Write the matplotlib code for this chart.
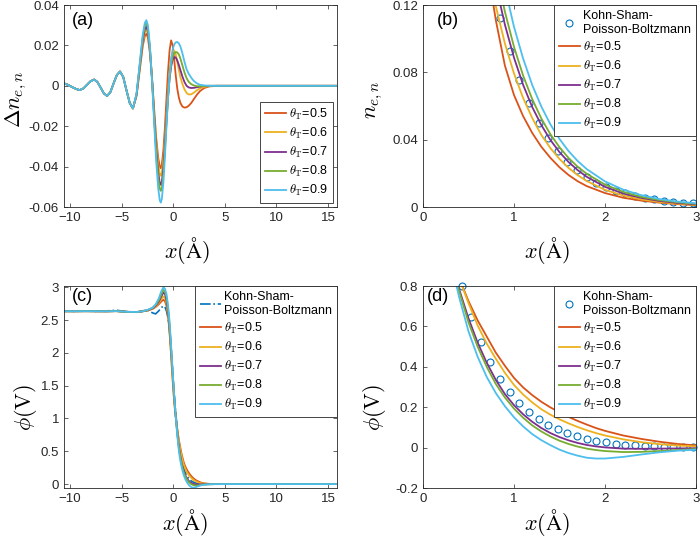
import numpy as np
import matplotlib
matplotlib.use("Agg")
import matplotlib.pyplot as plt

plt.rcParams["font.family"] = ["Liberation Sans", "DejaVu Sans"]
plt.rcParams["mathtext.fontset"] = "cm"

colors = ["#D95319", "#EDB120", "#7E2F8E", "#77AC30", "#4DBEEE"]
ks_color = "#0072BD"
theta_labels = [r"$\theta_{\mathrm{T}}$=0.5", r"$\theta_{\mathrm{T}}$=0.6", r"$\theta_{\mathrm{T}}$=0.7",
                r"$\theta_{\mathrm{T}}$=0.8", r"$\theta_{\mathrm{T}}$=0.9"]
ks_label = "Kohn-Sham-\nPoisson-Boltzmann"

# (a) density difference, shared oscillating part then one tail per theta
xa_head = [-10.58, -10.2, -9.8, -9.4, -9.05, -8.7, -8.35, -8.0, -7.65, -7.34, -7.02, -6.71,
           -6.4, -6.09, -5.78, -5.46, -5.15, -4.84, -4.53, -4.21, -3.9]
dn_head = [0.0012, 0.0005, -0.0006, -0.0016, -0.0021, -0.0013, 0.0005, 0.0023, 0.0031, 0.0019,
           -0.0010, -0.0038, -0.0050, -0.0032, 0.0011, 0.0053, 0.0071, 0.0044, -0.0021, -0.0085, -0.0112]
xa_tail = [-3.55, -3.25, -2.95, -2.75, -2.6, -2.45, -2.25, -2.05, -1.85, -1.65, -1.45, -1.3, -1.2,
           -1.1, -0.95, -0.8, -0.65, -0.5, -0.35, -0.2, -0.05, 0.1, 0.25, 0.4, 0.55, 0.7, 0.9,
           1.1, 1.3, 1.5, 1.75, 2.0, 2.3, 2.6, 3.0, 3.5, 4.2, 5.0, 15.87]
dn_05 = [-0.0050, 0.0073, 0.0196, 0.0246, 0.0258, 0.0239, 0.0160, 0.0037, -0.0112, -0.0255, -0.0356,
         -0.0400, -0.0408, -0.0390, -0.0320, -0.0205, -0.0065, 0.0070, 0.0175, 0.0225, 0.0200, 0.0130,
         0.0050, -0.0015, -0.0058, -0.0085, -0.0103, -0.0108, -0.0106, -0.0099, -0.0085, -0.0066,
         -0.0044, -0.0026, -0.0011, -0.0003, 0, 0, 0]
dn_06 = [-0.0047, 0.0083, 0.0213, 0.0265, 0.0278, 0.0258, 0.0172, 0.0038, -0.0124, -0.0279, -0.0389,
         -0.0436, -0.0445, -0.0430, -0.0365, -0.0265, -0.0145, -0.0030, 0.0070, 0.0135, 0.0168, 0.0174,
         0.0155, 0.0118, 0.0078, 0.0042, 0.0008, -0.0018, -0.0035, -0.0043, -0.0042, -0.0034,
         -0.0022, -0.0012, -0.0005, -0.0001, 0, 0, 0]
dn_07 = [-0.0044, 0.0091, 0.0225, 0.0280, 0.0293, 0.0271, 0.0178, 0.0033, -0.0142, -0.0310, -0.0429,
         -0.0480, -0.0490, -0.0475, -0.0405, -0.0295, -0.0170, -0.0055, 0.0035, 0.0095, 0.0130, 0.0142,
         0.0140, 0.0125, 0.0103, 0.0078, 0.0045, 0.0018, 0.0000, -0.0008, -0.0011, -0.0010,
         -0.0007, -0.0004, -0.0001, 0, 0, 0, 0]
dn_08 = [-0.0042, 0.0099, 0.0240, 0.0296, 0.0310, 0.0287, 0.0188, 0.0034, -0.0151, -0.0330, -0.0455,
         -0.0510, -0.0520, -0.0505, -0.0435, -0.0320, -0.0185, -0.0060, 0.0040, 0.0105, 0.0145, 0.0162,
         0.0167, 0.0165, 0.0155, 0.0135, 0.0100, 0.0065, 0.0038, 0.0020, 0.0008, 0.0002,
         -0.0002, -0.0002, -0.0001, 0, 0, 0, 0]
dn_09 = [-0.0039, 0.0107, 0.0252, 0.0311, 0.0325, 0.0300, 0.0193, 0.0025, -0.0177, -0.0371, -0.0508,
         -0.0567, -0.0578, -0.0560, -0.0480, -0.0350, -0.0200, -0.0060, 0.0050, 0.0130, 0.0180, 0.0205,
         0.0215, 0.0217, 0.0210, 0.0195, 0.0160, 0.0118, 0.0082, 0.0060, 0.0040, 0.0024,
         0.0012, 0.0005, 0.0002, 0, 0, 0, 0]

# (b) density near the surface
xb = [0.6, 0.7, 0.8, 0.9, 1.0, 1.1, 1.2, 1.3, 1.4, 1.5, 1.6, 1.7, 1.8, 2.0, 2.2, 2.4, 2.6, 2.8, 3.0]
n_05 = [0.190, 0.145, 0.111, 0.0840, 0.0665, 0.0540, 0.0440, 0.0358, 0.0292, 0.0236, 0.0190, 0.0153,
        0.0124, 0.0083, 0.0055, 0.0038, 0.0026, 0.0017, 0.0011]
n_06 = [0.180, 0.1466, 0.1193, 0.0971, 0.0793, 0.0648, 0.0529, 0.0428, 0.0350, 0.0285, 0.0232, 0.0189,
        0.0154, 0.0102, 0.0068, 0.0045, 0.0030, 0.0020, 0.0013]
n_07 = [0.197, 0.161, 0.132, 0.1083, 0.0887, 0.0726, 0.0594, 0.0487, 0.0398, 0.0326, 0.0267, 0.0219,
        0.0179, 0.0120, 0.0080, 0.0054, 0.0036, 0.0024, 0.0016]
n_08 = [0.210, 0.172, 0.1410, 0.1160, 0.0951, 0.0781, 0.0641, 0.0526, 0.0432, 0.0355, 0.0291, 0.0239,
        0.0197, 0.0133, 0.0090, 0.0060, 0.0041, 0.0028, 0.0019]
n_09 = [0.235, 0.193, 0.158, 0.1303, 0.1070, 0.0882, 0.0725, 0.0597, 0.0491, 0.0404, 0.0332, 0.0273,
        0.0225, 0.0152, 0.0103, 0.0070, 0.0047, 0.0032, 0.0022]
xb_ks = [0.846, 0.952, 1.058, 1.164, 1.270, 1.376, 1.481, 1.587, 1.693, 1.799, 1.905, 2.011, 2.116,
         2.222, 2.328, 2.434, 2.540, 2.645, 2.751, 2.857, 2.963]
n_ks = [0.1125, 0.0925, 0.0755, 0.0615, 0.0500, 0.0408, 0.0332, 0.0268, 0.0218, 0.0177, 0.0143,
        0.0118, 0.0098, 0.0081, 0.0067, 0.0055, 0.0045, 0.0038, 0.0031, 0.0026, 0.0022]

# (c)/(d) potential, (d) is a close-up of the same curves
xp = [-10.58, -9.5, -8.5, -7.5, -6.5, -5.5, -4.5, -3.5, -3.0, -2.5, -2.0, -1.7, -1.4, -1.15, -0.95,
      -0.8, -0.65, -0.5, -0.4, -0.3, -0.2, -0.1, 0.0, 0.1, 0.2, 0.3, 0.4, 0.5, 0.6, 0.7, 0.8, 0.9,
      1.0, 1.1, 1.2, 1.3, 1.4, 1.5, 1.6, 1.7, 1.8, 1.9, 2.0, 2.2, 2.4, 2.6, 2.8, 3.0, 3.5, 4.0, 5.0, 15.87]
phi_head = [2.635, 2.635, 2.636, 2.635, 2.634, 2.637, 2.626, 2.624, 2.633]
phi_05 = [2.645, 2.67, 2.70, 2.74, 2.785, 2.81, 2.79, 2.72, 2.56, 2.40, 2.20, 1.96, 1.71, 1.47, 1.26,
          1.09, 0.955, 0.835, 0.725, 0.63, 0.55, 0.47, 0.405, 0.345, 0.298, 0.26, 0.227, 0.199, 0.175,
          0.152, 0.132, 0.114, 0.097, 0.083, 0.060, 0.043, 0.029, 0.018, 0.011, 0.003, 0.001, 0, 0]
phi_06 = [2.648, 2.675, 2.71, 2.76, 2.82, 2.86, 2.84, 2.76, 2.60, 2.44, 2.22, 1.97, 1.71, 1.465, 1.255,
          1.085, 0.95, 0.835, 0.715, 0.605, 0.515, 0.44, 0.37, 0.31, 0.263, 0.224, 0.19, 0.163, 0.14,
          0.12, 0.102, 0.086, 0.072, 0.060, 0.041, 0.027, 0.017, 0.010, 0.006, 0.002, 0.0005, 0, 0]
phi_07 = [2.65, 2.68, 2.72, 2.78, 2.86, 2.92, 2.90, 2.80, 2.64, 2.48, 2.28, 2.05, 1.80, 1.55, 1.32,
          1.12, 0.945, 0.78, 0.64, 0.52, 0.42, 0.335, 0.265, 0.21, 0.165, 0.128, 0.097, 0.072, 0.052,
          0.036, 0.023, 0.013, 0.006, 0.001, -0.005, -0.006, -0.005, -0.004, -0.003, -0.001, 0, 0, 0]
phi_08 = [2.652, 2.685, 2.73, 2.80, 2.89, 2.96, 2.94, 2.85, 2.68, 2.52, 2.31, 2.07, 1.82, 1.57, 1.34,
          1.13, 0.94, 0.77, 0.62, 0.50, 0.40, 0.315, 0.248, 0.193, 0.148, 0.11, 0.08, 0.055, 0.034,
          0.018, 0.005, -0.005, -0.012, -0.017, -0.022, -0.021, -0.017, -0.012, -0.007, -0.003, -0.001, 0, 0]
phi_09 = [2.655, 2.69, 2.74, 2.83, 2.94, 3.00, 2.98, 2.90, 2.73, 2.57, 2.36, 2.11, 1.85, 1.59, 1.35,
          1.13, 0.93, 0.74, 0.575, 0.45, 0.35, 0.27, 0.205, 0.15, 0.105, 0.067, 0.037, 0.012, -0.01,
          -0.027, -0.04, -0.05, -0.054, -0.054, -0.046, -0.034, -0.023, -0.015, -0.01, -0.004, -0.001, 0, 0]
xk = [-10.58, -9.5, -8.5, -7.5, -6.5, -5.5, -4.5, -3.5, -3.0, -2.5, -2.0, -1.7, -1.4, -1.15, -0.95,
      -0.8, -0.65, -0.5, -0.4, -0.3, -0.2, -0.1, 0.0, 0.1, 0.2, 0.317,
      0.423, 0.529, 0.635, 0.741, 0.846, 0.952, 1.058, 1.164, 1.270, 1.376, 1.481, 1.587, 1.693,
      1.799, 1.905, 2.011, 2.116, 2.222, 2.328, 2.434, 2.540, 2.645, 2.751, 2.857, 2.963,
      3.5, 4.0, 5.0, 15.87]
phi_ks = [2.64, 2.633, 2.64, 2.633, 2.64, 2.65, 2.63, 2.62, 2.64, 2.655, 2.61, 2.595, 2.64, 2.69, 2.715,
          2.70, 2.64, 2.53, 2.41, 2.25, 2.05, 1.82, 1.58, 1.36, 1.17, 0.97,
          0.80, 0.645, 0.525, 0.422, 0.342, 0.277, 0.223, 0.178, 0.142, 0.114, 0.090, 0.071, 0.056,
          0.044, 0.034, 0.026, 0.019, 0.015, 0.011, 0.008, 0.006, 0.005, 0.004, 0.003, 0.003,
          0.001, 0, 0, 0]

dn_tails = [dn_05, dn_06, dn_07, dn_08, dn_09]
n_curves = [n_05, n_06, n_07, n_08, n_09]
phi_tails = [phi_05, phi_06, phi_07, phi_08, phi_09]

lw = 1.3
fig = plt.figure(figsize=(7.0, 5.38), dpi=100)
ax_a = fig.add_axes([0.0914, 0.6152, 0.39, 0.3755])
ax_b = fig.add_axes([0.6043, 0.6152, 0.39, 0.3755])
ax_c = fig.add_axes([0.0914, 0.0929, 0.39, 0.3755])
ax_d = fig.add_axes([0.6043, 0.0929, 0.39, 0.3755])

legend_kw = dict(fontsize=9, fancybox=False, framealpha=1, edgecolor="#262626",
                 handlelength=1.7, handletextpad=0.25, labelspacing=0.32, borderpad=0.4)
xlabel = r"$x(\mathrm{\AA})$"

# (a)
for tail, c, lab in zip(dn_tails, colors, theta_labels):
    ax_a.plot(np.concatenate([xa_head, xa_tail]), np.concatenate([dn_head, tail]),
              color=c, lw=lw, label=lab)
ax_a.set_xlim(-10.58, 15.87)
ax_a.set_ylim(-0.06, 0.04)
ax_a.set_xticks([-10, -5, 0, 5, 10, 15])
ax_a.set_yticks([-0.06, -0.04, -0.02, 0, 0.02, 0.04])
ax_a.set_yticklabels(["-0.06", "-0.04", "-0.02", "0", "0.02", "0.04"])
ax_a.set_ylabel(r"$\Delta n_{e,n}$", fontsize=16)
ax_a.set_xlabel(xlabel, fontsize=16)
leg = ax_a.legend(loc="lower right", borderaxespad=0.3, **legend_kw)
leg.get_frame().set_linewidth(0.6)
ax_a.text(0.03, 0.965, "(a)", transform=ax_a.transAxes, fontsize=13, va="top")

# (b)
ax_b.plot(xb_ks, n_ks, "o", mfc="none", mec=ks_color, ms=5, mew=0.8, label=ks_label)
for y, c, lab in zip(n_curves, colors, theta_labels):
    ax_b.plot(xb, y, color=c, lw=lw, label=lab)
ax_b.set_xlim(0, 3)
ax_b.set_ylim(0, 0.12)
ax_b.set_xticks([0, 1, 2, 3])
ax_b.set_yticks([0, 0.04, 0.08, 0.12])
ax_b.set_yticklabels(["0", "0.04", "0.08", "0.12"])
ax_b.set_ylabel(r"$n_{e,n}$", fontsize=16)
ax_b.set_xlabel(xlabel, fontsize=16)
leg = ax_b.legend(loc="upper right", borderaxespad=0.0, **legend_kw)
leg.get_frame().set_linewidth(0.6)
ax_b.text(0.05, 0.965, "(b)", transform=ax_b.transAxes, fontsize=13, va="top")

# (c)
ax_c.plot(xk, phi_ks, color=ks_color, lw=1.2, ls="-.", label=ks_label)
for tail, c, lab in zip(phi_tails, colors, theta_labels):
    ax_c.plot(xp, np.concatenate([phi_head, tail]), color=c, lw=lw, label=lab)
ax_c.set_xlim(-10.58, 15.87)
ax_c.set_ylim(-0.06, 3.02)
ax_c.set_xticks([-10, -5, 0, 5, 10, 15])
ax_c.set_yticks([0, 0.5, 1, 1.5, 2, 2.5, 3])
ax_c.set_yticklabels(["0", "0.5", "1", "1.5", "2", "2.5", "3"])
ax_c.set_ylabel(r"$\phi(\mathrm{V})$", fontsize=16)
ax_c.set_xlabel(xlabel, fontsize=16)
leg = ax_c.legend(loc="upper right", borderaxespad=0.0, **legend_kw)
leg.get_frame().set_linewidth(0.6)
ax_c.text(0.03, 0.99, "(c)", transform=ax_c.transAxes, fontsize=13, va="top")

# (d)
xk_arr = np.array(xk)
phi_ks_arr = np.array(phi_ks)
near = (xk_arr > 0.4) & (xk_arr < 3.0)
ax_d.plot(xk_arr[near], phi_ks_arr[near], "o", mfc="none", mec=ks_color, ms=5, mew=0.8,
          label=ks_label, clip_on=False)
for tail, c, lab in zip(phi_tails, colors, theta_labels):
    ax_d.plot(xp, np.concatenate([phi_head, tail]), color=c, lw=lw, label=lab)
ax_d.set_xlim(0, 3)
ax_d.set_ylim(-0.2, 0.8)
ax_d.set_xticks([0, 1, 2, 3])
ax_d.set_yticks([-0.2, 0, 0.2, 0.4, 0.6, 0.8])
ax_d.set_yticklabels(["-0.2", "0", "0.2", "0.4", "0.6", "0.8"])
ax_d.set_ylabel(r"$\phi(\mathrm{V})$", fontsize=16)
ax_d.set_xlabel(xlabel, fontsize=16)
leg = ax_d.legend(loc="upper right", borderaxespad=0.0, **legend_kw)
leg.get_frame().set_linewidth(0.6)
ax_d.text(0.015, 0.99, "(d)", transform=ax_d.transAxes, fontsize=13, va="top")

# label positions in axes fraction
ylabel_pos = {ax_a: (-0.175, 0.53), ax_b: (-0.176, 0.53), ax_c: (-0.14, 0.40), ax_d: (-0.176, 0.40)}
xlabel_pos = {ax_a: (0.45, -0.213), ax_b: (0.454, -0.213), ax_c: (0.443, -0.173), ax_d: (0.454, -0.173)}

for ax in [ax_a, ax_b, ax_c, ax_d]:
    ax.tick_params(direction="in", top=True, right=True, length=3, width=0.5,
                   labelsize=9.5, colors="#262626")
    for side in ["top", "right", "bottom", "left"]:
        ax.spines[side].set_linewidth(0.6)
        ax.spines[side].set_color("#262626")
    ax.yaxis.set_label_coords(*ylabel_pos[ax])
    ax.yaxis.label.set_verticalalignment("center")
    ax.xaxis.set_label_coords(*xlabel_pos[ax])
    ax.xaxis.label.set_verticalalignment("center")

fig.savefig("out.png", dpi=100)
